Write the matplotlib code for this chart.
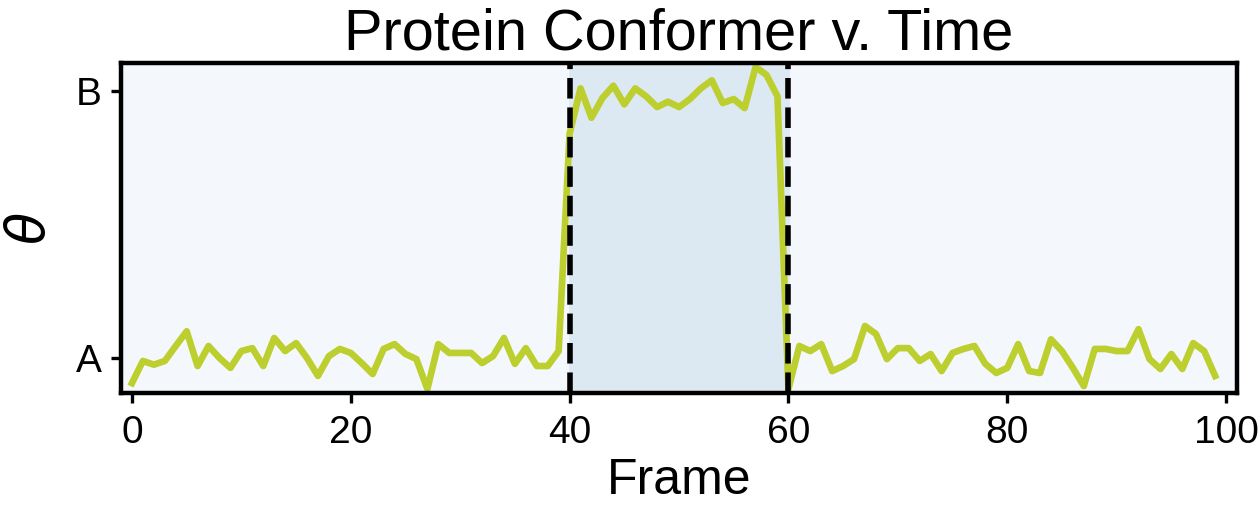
import matplotlib
matplotlib.use("Agg")
import matplotlib.pyplot as plt
import numpy as np

plt.rcParams['font.family'] = ['Liberation Sans', 'DejaVu Sans']
plt.rcParams['mathtext.fontset'] = 'dejavusans'

frames = list(range(100))
theta = [
    -0.094, -0.011, -0.025, -0.011, 0.045, 0.100, -0.030, 0.045, 0.000, -0.037,
    0.026, 0.037, -0.030, 0.075, 0.026, 0.056, 0.000, -0.067, 0.007, 0.034,
    0.019, -0.019, -0.060, 0.034, 0.052, 0.015, -0.004, -0.116, 0.052, 0.019,
    0.019, 0.019, -0.019, 0.007, 0.075, -0.022, 0.037, -0.030, -0.030, 0.026,
    0.840, 1.010, 0.900, 0.974, 1.020, 0.950, 1.010, 0.980, 0.940, 0.960,
    0.940, 0.970, 1.010, 1.040, 0.955, 0.970, 0.936, 1.090, 1.060, 0.980,
    -0.116, 0.045, 0.026, 0.052, -0.049, -0.030, -0.004, 0.120, 0.090, -0.004,
    0.037, 0.037, -0.011, 0.015, -0.049, 0.019, 0.034, 0.045, -0.022, -0.056,
    -0.037, 0.052, -0.049, -0.056, 0.070, 0.026, -0.037, -0.105, 0.034, 0.034,
    0.026, 0.026, 0.108, -0.004, -0.041, 0.015, -0.041, 0.056, 0.026, -0.067,
]
state_start, state_end = 40, 60
yticks = [0, 1]
yticklabels = ['A', 'B']

fig = plt.figure(figsize=(6.29, 2.54), dpi=200)
ax = fig.add_axes([0.0962, 0.2264, 0.8871, 0.6496])
ax.set_facecolor('#f4f8fc')
ax.axvspan(state_start, state_end, color='#dce9f3', zorder=0)
ax.plot(frames, theta, color='#bccf2f', lw=2.4, zorder=2)
for x in (state_start, state_end):
    ax.axvline(x, color='black', ls='--', lw=2, zorder=3)

ax.set_xlim(-1, 101)
ax.set_ylim(-0.131, 1.105)
ax.set_yticks(yticks)
ax.set_yticklabels(yticklabels)
ax.set_xticks([0, 20, 40, 60, 80, 100])
ax.tick_params(labelsize=14, width=1.2, length=3.5)
ax.tick_params(axis='x', pad=4.5)
for s in ax.spines.values():
    s.set_linewidth(1.6)
ax.set_title('Protein Conformer v. Time', fontsize=20.8, pad=5)
ax.set_xlabel('Frame', fontsize=18, labelpad=2.5)
ax.set_ylabel(r'$\theta$', fontsize=19, labelpad=7)

fig.savefig('out.png', dpi=200)
